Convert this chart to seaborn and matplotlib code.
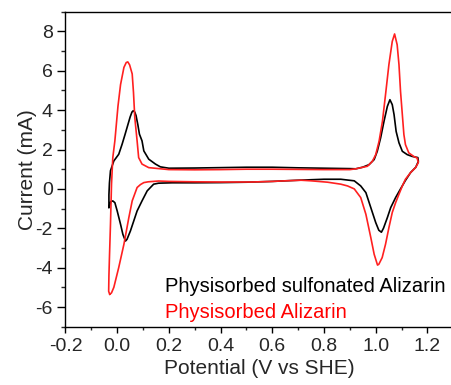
import numpy as np
import pandas as pd
import matplotlib
matplotlib.use("Agg")
import matplotlib.pyplot as plt
import seaborn as sns
from matplotlib.ticker import MultipleLocator

# ---- data ----
black_label = "Physisorbed sulfonated Alizarin"
red_label = "Physisorbed Alizarin"

black_x = [-0.032, -0.032, -0.030, -0.026, -0.013, 0.006, 0.019, 0.030, 0.040,
           0.050, 0.057, 0.062, 0.068, 0.073, 0.080, 0.086, 0.096, 0.103, 0.122,
           0.148, 0.167, 0.2, 0.3, 0.4, 0.5, 0.6, 0.7, 0.8,
           0.9, 0.923, 0.949, 0.974, 0.994, 1.006, 1.019, 1.032, 1.045, 1.055,
           1.064, 1.071, 1.079, 1.09, 1.103, 1.122, 1.141, 1.163,
           1.165, 1.155, 1.135, 1.115, 1.096, 1.077, 1.058, 1.045, 1.03,
           1.022, 1.012, 1.0, 0.981, 0.962, 0.942, 0.917, 0.865,
           0.8, 0.7, 0.6, 0.5, 0.4, 0.3, 0.212, 0.16,
           0.141, 0.116, 0.096, 0.077, 0.064, 0.051, 0.038, 0.032,
           0.022, 0.013, 0.0, -0.009, -0.017, -0.025, -0.032]
black_y = [-0.95, -0.3, 0.3, 0.92, 1.42, 1.76, 2.27, 2.75, 3.2,
           3.65, 3.9, 3.97, 3.9, 3.72, 3.25, 2.78, 2.44, 1.93, 1.51,
           1.26, 1.12, 1.05, 1.06, 1.08, 1.1, 1.1, 1.07, 1.05,
           1.03, 1.02, 1.1, 1.23, 1.49, 1.91, 2.59, 3.43, 4.19, 4.53,
           4.28, 3.77, 2.92, 2.34, 1.91, 1.74, 1.65, 1.59,
           1.4, 1.1, 0.83, 0.43, 0.0, -0.44, -0.95, -1.46, -2.0,
           -2.2, -2.1, -1.71, -0.95, -0.19, 0.15, 0.41, 0.49,
           0.49, 0.44, 0.38, 0.34, 0.32, 0.31, 0.31, 0.29,
           0.24, -0.1, -0.61, -1.12, -1.63, -2.14, -2.56, -2.65,
           -2.31, -1.8, -1.12, -0.7, -0.61, -0.65, -0.95]

red_x = [-0.029, -0.033, -0.032, -0.030, -0.026, -0.022, -0.017, -0.009, 0.003, 0.013,
         0.026, 0.035, 0.041, 0.048, 0.058, 0.063, 0.068, 0.077, 0.083, 0.096,
         0.122, 0.2, 0.3, 0.4, 0.5, 0.6, 0.7, 0.8, 0.9, 0.923,
         0.968, 0.987, 1.0, 1.013, 1.026, 1.038, 1.051, 1.064, 1.073,
         1.083, 1.09, 1.096, 1.103, 1.109, 1.115, 1.128, 1.147, 1.16,
         1.165, 1.154, 1.135, 1.115, 1.103, 1.09, 1.077, 1.064, 1.051,
         1.038, 1.025, 1.012, 1.007, 0.994, 0.981, 0.962, 0.942,
         0.917, 0.891, 0.865, 0.814, 0.75, 0.712, 0.65, 0.6, 0.52,
         0.4, 0.3, 0.2, 0.16, 0.12, 0.103, 0.09, 0.077, 0.058, 0.045,
         0.026, 0.006, -0.013, -0.022, -0.029]
red_y = [-5.36, -5.2, -4.4, -3.5, -1.8, 0.24, 1.59, 2.44, 4.2, 5.3,
         6.17, 6.42, 6.45, 6.3, 5.84, 4.9, 3.63, 2.44, 1.59, 1.26,
         1.08, 0.98, 0.97, 0.98, 1.0, 1.0, 0.99, 0.98, 0.98, 1.02,
         1.15, 1.4, 1.74, 2.42, 3.43, 4.79, 6.31, 7.49, 7.87,
         7.32, 6.31, 4.95, 3.77, 2.76, 2.25, 1.83, 1.65, 1.57,
         1.34, 1.08, 0.83, 0.49, 0.15, -0.27, -0.7, -1.2, -1.97,
         -2.81, -3.49, -3.83, -3.87, -3.32, -2.47, -1.29, -0.44,
         0.0, 0.15, 0.24, 0.34, 0.41, 0.44, 0.41, 0.38, 0.35,
         0.35, 0.36, 0.38, 0.4, 0.36, 0.32, 0.22, 0.07, -0.61, -1.46,
         -2.81, -3.99, -5.0, -5.28, -5.36]

x_ticks = [-0.2, 0.0, 0.2, 0.4, 0.6, 0.8, 1.0, 1.2]
y_ticks = [-6, -4, -2, 0, 2, 4, 6, 8]

# ---- build table ----
df = pd.concat([
    pd.DataFrame({"E": black_x, "I": black_y, "sample": black_label}),
    pd.DataFrame({"E": red_x, "I": red_y, "sample": red_label}),
], ignore_index=True)

sns.set_style("ticks")
plt.rcParams["font.family"] = ["Liberation Sans", "DejaVu Sans"]

fig = plt.figure(figsize=(4.52, 3.85), dpi=100)
ax = fig.add_axes([0.1449, 0.1514, 0.8579, 0.8182])

colors = {black_label: "#000000", red_label: "#ff2020"}
sns.lineplot(data=df, x="E", y="I", hue="sample", units="sample", estimator=None,
             sort=False, palette=colors, hue_order=[black_label, red_label],
             linewidth=1.2, legend=False, ax=ax)

ax.set_xlim(-0.2, 1.3)
ax.set_ylim(-7, 9)
ax.set_xticks(x_ticks)
ax.set_xticklabels([f"{t:.1f}" for t in x_ticks])
ax.set_yticks(y_ticks)
ax.set_yticklabels([str(t) for t in y_ticks])
ax.xaxis.set_minor_locator(MultipleLocator(0.1))
ax.yaxis.set_minor_locator(MultipleLocator(1))

ax.tick_params(axis="both", which="major", labelsize=14, width=1.0, color="black")
ax.tick_params(axis="x", which="major", length=4, pad=4)
ax.tick_params(axis="x", which="minor", length=2.2, width=1.0)
ax.tick_params(axis="y", which="major", length=6, pad=3)
ax.tick_params(axis="y", which="minor", length=3, width=1.0)

for side in ["left", "bottom", "top"]:
    ax.spines[side].set_color("black")
    ax.spines[side].set_linewidth(1.0)
ax.spines["right"].set_visible(False)

ax.set_xlabel("Potential (V vs SHE)", fontsize=15, labelpad=3)
ax.set_ylabel("Current (mA)", fontsize=15, labelpad=-1)

ax.text(0.2566, 0.111, black_label, transform=ax.transAxes, fontsize=14.5,
        color="#000000", va="baseline", ha="left")
ax.text(0.2566, 0.0267, red_label, transform=ax.transAxes, fontsize=14.5,
        color="#ff0000", va="baseline", ha="left")

fig.savefig("out.png", dpi=100)
